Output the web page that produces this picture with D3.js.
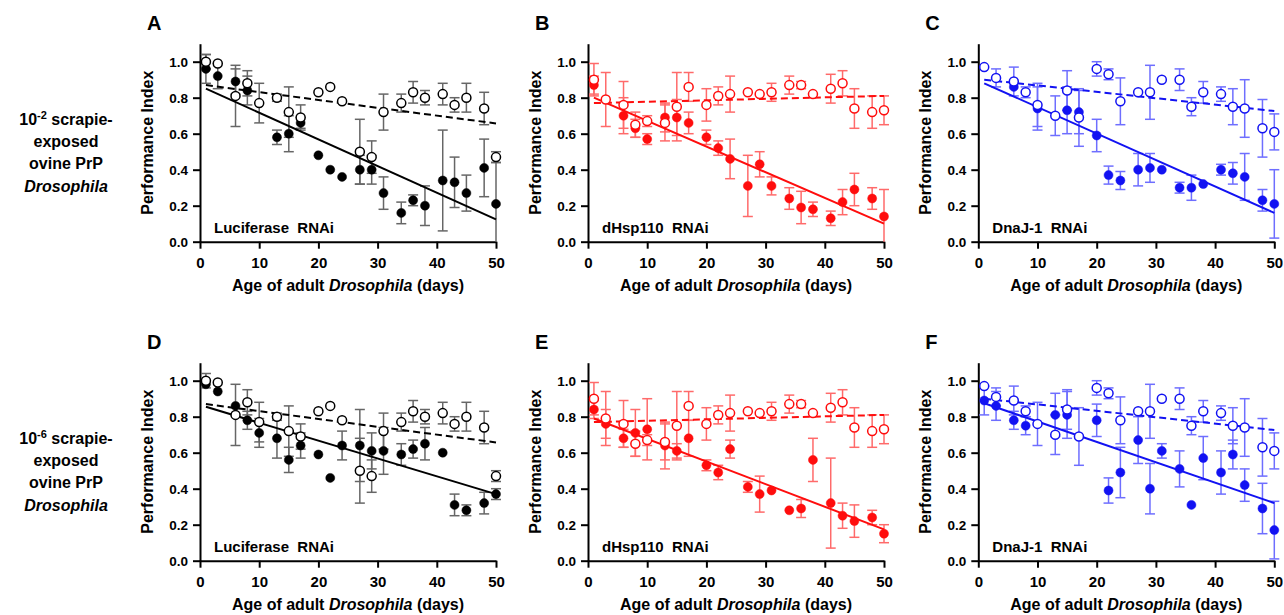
<!DOCTYPE html>
<html>
<head>
<meta charset="utf-8">
<script src="https://cdn.jsdelivr.net/npm/d3@7"></script>
<style>
  body { margin: 0; background: #fff; }
  svg { font-family: "Liberation Sans", Arial, sans-serif; font-weight: bold; }
</style>
</head>
<body>
<svg id="chart" width="1284" height="615"></svg>
<script>
// age of flies (days) at each test
var days = [1, 3, 6, 8, 10, 13, 15, 17, 20, 22, 24, 27, 29, 31, 34, 36, 38, 41, 43, 45, 48, 50];

// open circles (control) - same in both rows
var lucOpen    = [1.00, 0.99, 0.81, 0.88, 0.77, 0.80, 0.72, 0.69, 0.83, 0.86, 0.78, 0.50, 0.47, 0.72, 0.77, 0.83, 0.80, 0.82, 0.76, 0.80, 0.74, 0.47];
var lucOpenErr = [0.04, 0, 0.17, 0.07, 0.11, 0.02, 0.14, 0.07, 0, 0, 0, 0.18, 0.09, 0.10, 0.05, 0.06, 0.04, 0.06, 0.04, 0.08, 0.09, 0.03];
var hspOpen    = [0.90, 0.79, 0.76, 0.65, 0.67, 0.66, 0.75, 0.86, 0.76, 0.81, 0.82, 0.83, 0.82, 0.83, 0.87, 0.87, 0.82, 0.85, 0.88, 0.74, 0.72, 0.73];
var hspOpenErr = [0.09, 0.15, 0.13, 0.07, 0.03, 0.10, 0.19, 0.08, 0.09, 0.05, 0.10, 0, 0, 0.05, 0.05, 0.02, 0, 0.08, 0.07, 0.11, 0.09, 0.08];
var dnajOpen    = [0.97, 0.91, 0.89, 0.83, 0.76, 0.70, 0.84, 0.69, 0.96, 0.93, 0.78, 0.83, 0.83, 0.90, 0.90, 0.75, 0.83, 0.82, 0.75, 0.74, 0.63, 0.61];
var dnajOpenErr = [0, 0.05, 0.08, 0.03, 0.12, 0.11, 0.11, 0.16, 0.04, 0.03, 0.13, 0, 0.15, 0, 0.06, 0.05, 0.06, 0.04, 0.10, 0.16, 0.16, 0.10];

// filled circles, 10^-2 row
var lucHigh    = [0.96, 0.92, 0.89, 0.84, null, 0.58, 0.60, 0.66, 0.48, 0.40, 0.36, 0.40, 0.40, 0.27, 0.16, 0.23, 0.20, 0.34, 0.33, 0.27, 0.41, 0.21];
var lucHighErr = [0.08, 0.07, 0.07, 0.08, 0, 0.04, 0.10, 0.03, 0, 0, 0, 0.08, 0.08, 0.09, 0.06, 0.03, 0.11, 0.28, 0.14, 0.10, 0.16, 0.23];
var hspHigh    = [0.87, null, 0.70, 0.63, 0.57, 0.69, 0.69, 0.66, 0.58, 0.52, 0.46, 0.31, 0.43, 0.31, 0.24, 0.19, 0.18, 0.13, 0.22, 0.29, 0.24, 0.14];
var hspHighErr = [0.05, 0, 0.10, 0.05, 0.03, 0.08, 0.10, 0.06, 0.04, 0.04, 0.11, 0.17, 0.07, 0.05, 0.06, 0.09, 0.04, 0.04, 0.07, 0.09, 0.06, 0.15];
var dnajHigh    = [null, null, 0.86, null, 0.74, null, 0.73, 0.72, 0.59, 0.37, 0.34, 0.40, 0.41, 0.40, 0.30, 0.30, 0.32, 0.40, 0.38, 0.36, 0.23, 0.21];
var dnajHighErr = [0, 0, 0, 0, 0.12, 0, 0.13, 0.12, 0.09, 0.05, 0.05, 0.09, 0.08, 0, 0.03, 0.07, 0, 0.03, 0.06, 0.13, 0.06, 0.19];

// filled circles, 10^-6 row
var lucLow    = [0.98, 0.94, 0.86, 0.78, 0.71, 0.68, 0.56, 0.64, 0.59, 0.46, 0.64, 0.64, 0.61, 0.61, 0.59, 0.62, 0.65, 0.60, 0.31, 0.28, 0.32, 0.37];
var lucLowErr = [0, 0, 0, 0.05, 0.08, 0.11, 0.07, 0.07, 0, 0, 0.08, 0.20, 0.10, 0.13, 0.06, 0.05, 0.09, 0, 0.06, 0.03, 0.06, 0.03];
var hspLow    = [0.84, 0.76, 0.68, 0.71, 0.73, 0.64, 0.61, 0.68, 0.53, 0.49, 0.62, 0.41, 0.37, 0.39, 0.28, 0.29, 0.56, 0.32, 0.25, 0.22, 0.24, 0.15];
var hspLowErr = [0.05, 0.08, 0.05, 0.13, 0.17, 0.13, 0.04, 0.10, 0.03, 0.04, 0.05, 0.03, 0.10, 0, 0, 0.05, 0.12, 0.25, 0.07, 0.09, 0.04, 0.05];
var dnajLow    = [0.89, 0.86, 0.78, 0.75, null, 0.81, 0.81, null, 0.78, 0.39, 0.49, 0.67, 0.40, 0.61, 0.51, 0.31, 0.57, 0.49, 0.59, 0.42, 0.29, 0.17];
var dnajLowErr = [0.08, 0.08, 0.05, 0.05, 0, 0.12, 0.13, 0, 0.09, 0.07, 0.14, 0.13, 0.14, 0.04, 0.10, 0, 0.12, 0.12, 0.08, 0.09, 0.14, 0.16];

// regression lines [value at day 1, value at day 50]
var fitLucOpen = [0.87, 0.657], fitHspOpen = [0.77, 0.81], fitDnajOpen = [0.90, 0.726];
var fitLucHigh = [0.85, 0.124], fitHspHigh = [0.80, 0.10], fitDnajHigh = [0.88, 0.16];
var fitLucLow = [0.855, 0.37], fitHspLow = [0.79, 0.174], fitDnajLow = [0.875, 0.32];

var xTicks = [0, 10, 20, 30, 40, 50];
var yTicks = [0, 0.2, 0.4, 0.6, 0.8, 1.0];
var rowExp = ["-2", "-6"];

var colX = [200, 588, 978.3];
var rowY = [241.7, 560.7];

var black = { main: "#000", err: "#666" };
var red = { main: "#ff0d0d", err: "#ff6a6a" };
var blue = { main: "#1212f2", err: "#6e6eff" };

var panels = [
  { letter: "A", col: 0, row: 0, label: "Luciferase  RNAi", c: black, open: lucOpen, openErr: lucOpenErr, openFit: fitLucOpen, filled: lucHigh, filledErr: lucHighErr, filledFit: fitLucHigh },
  { letter: "B", col: 1, row: 0, label: "dHsp110  RNAi", c: red, open: hspOpen, openErr: hspOpenErr, openFit: fitHspOpen, filled: hspHigh, filledErr: hspHighErr, filledFit: fitHspHigh },
  { letter: "C", col: 2, row: 0, label: "DnaJ-1  RNAi", c: blue, open: dnajOpen, openErr: dnajOpenErr, openFit: fitDnajOpen, filled: dnajHigh, filledErr: dnajHighErr, filledFit: fitDnajHigh },
  { letter: "D", col: 0, row: 1, label: "Luciferase  RNAi", c: black, open: lucOpen, openErr: lucOpenErr, openFit: fitLucOpen, filled: lucLow, filledErr: lucLowErr, filledFit: fitLucLow },
  { letter: "E", col: 1, row: 1, label: "dHsp110  RNAi", c: red, open: hspOpen, openErr: hspOpenErr, openFit: fitHspOpen, filled: hspLow, filledErr: hspLowErr, filledFit: fitHspLow },
  { letter: "F", col: 2, row: 1, label: "DnaJ-1  RNAi", c: blue, open: dnajOpen, openErr: dnajOpenErr, openFit: fitDnajOpen, filled: dnajLow, filledErr: dnajLowErr, filledFit: fitDnajLow }
];

var svg = d3.select("#chart");

// row labels on the left
rowY.forEach(function (oy, r) {
  var t = svg.append("text").attr("text-anchor", "middle").attr("font-size", 16);
  var top = oy - 117;
  var l1 = t.append("tspan").attr("x", 66).attr("y", top);
  l1.append("tspan").text("10");
  l1.append("tspan").attr("font-size", 11).attr("dy", -6).text(rowExp[r]);
  l1.append("tspan").attr("dy", 6).text(" scrapie-");
  t.append("tspan").attr("x", 66).attr("y", top + 22).text("exposed");
  t.append("tspan").attr("x", 66).attr("y", top + 44).text("ovine PrP");
  t.append("tspan").attr("x", 66).attr("y", top + 67).attr("font-style", "italic").text("Drosophila");
});

panels.forEach(function (p) {
  var ox = colX[p.col], oy = rowY[p.row];
  var x = d3.scaleLinear().domain([0, 50]).range([ox, ox + 296]);
  var y = d3.scaleLinear().domain([0, 1.1]).range([oy, oy - 198]);
  var g = svg.append("g");

  // axes
  var ax = g.append("g").attr("transform", "translate(0," + oy + ")")
    .call(d3.axisBottom(x).tickValues(xTicks).tickSize(7).tickPadding(9).tickSizeOuter(0));
  var ay = g.append("g").attr("transform", "translate(" + ox + ",0)")
    .call(d3.axisLeft(y).tickValues(yTicks).tickFormat(d3.format(".1f")).tickSize(7).tickPadding(5).tickSizeOuter(0));
  [ax, ay].forEach(function (a) {
    a.attr("font-family", null).attr("font-size", null);
    a.selectAll("path, line").attr("stroke", "#000").attr("stroke-width", 2);
    a.selectAll("text").attr("fill", "#000");
  });
  ax.selectAll("text").attr("font-size", 15);
  ay.selectAll("text").attr("font-size", 13.5);

  // axis titles
  g.append("text").attr("transform", "translate(" + (ox - 47) + "," + (oy - 99) + ") rotate(-90)")
    .attr("text-anchor", "middle").attr("font-size", 16).text("Performance Index");
  var xt = g.append("text").attr("x", ox + 148).attr("y", oy + 49)
    .attr("text-anchor", "middle").attr("font-size", 16);
  xt.append("tspan").text("Age of adult ");
  xt.append("tspan").attr("font-style", "italic").text("Drosophila");
  xt.append("tspan").text(" (days)");

  // panel letter and inner label
  g.append("text").attr("x", ox - 53).attr("y", oy - 212).attr("font-size", 20).text(p.letter);
  g.append("text").attr("x", ox + 14).attr("y", oy - 9).attr("font-size", 15)
    .style("white-space", "pre").text(p.label);

  var series = [
    { vals: p.filled, errs: p.filledErr, fit: p.filledFit, open: false },
    { vals: p.open, errs: p.openErr, fit: p.openFit, open: true }
  ];

  // error bars
  series.forEach(function (s) {
    var pts = days.map(function (d, i) { return { d: d, v: s.vals[i], e: s.errs[i] }; })
      .filter(function (q) { return q.v != null && q.e > 0; });
    var eb = g.append("g").attr("stroke", p.c.err).attr("stroke-width", 1.5);
    pts.forEach(function (q) {
      var lo = Math.max(0, q.v - q.e), hi = q.v + q.e;
      eb.append("line").attr("x1", x(q.d)).attr("x2", x(q.d)).attr("y1", y(lo)).attr("y2", y(hi));
      eb.append("line").attr("x1", x(q.d) - 5).attr("x2", x(q.d) + 5).attr("y1", y(hi)).attr("y2", y(hi));
      if (lo > 0) eb.append("line").attr("x1", x(q.d) - 5).attr("x2", x(q.d) + 5).attr("y1", y(lo)).attr("y2", y(lo));
    });
  });

  // regression lines
  series.forEach(function (s) {
    g.append("line").attr("x1", x(1)).attr("y1", y(s.fit[0])).attr("x2", x(50)).attr("y2", y(s.fit[1]))
      .attr("stroke", p.c.main).attr("stroke-width", 2)
      .attr("stroke-dasharray", s.open ? "7,4" : null);
  });

  // points
  series.forEach(function (s) {
    var pts = days.map(function (d, i) { return { d: d, v: s.vals[i] }; })
      .filter(function (q) { return q.v != null; });
    g.append("g").selectAll("circle").data(pts).enter().append("circle")
      .attr("cx", function (q) { return x(q.d); })
      .attr("cy", function (q) { return y(q.v); })
      .attr("r", 4.5)
      .attr("fill", s.open ? "#fff" : p.c.main)
      .attr("stroke", p.c.main)
      .attr("stroke-width", s.open ? 1.5 : 0.5);
  });
});
</script>
</body>
</html>
